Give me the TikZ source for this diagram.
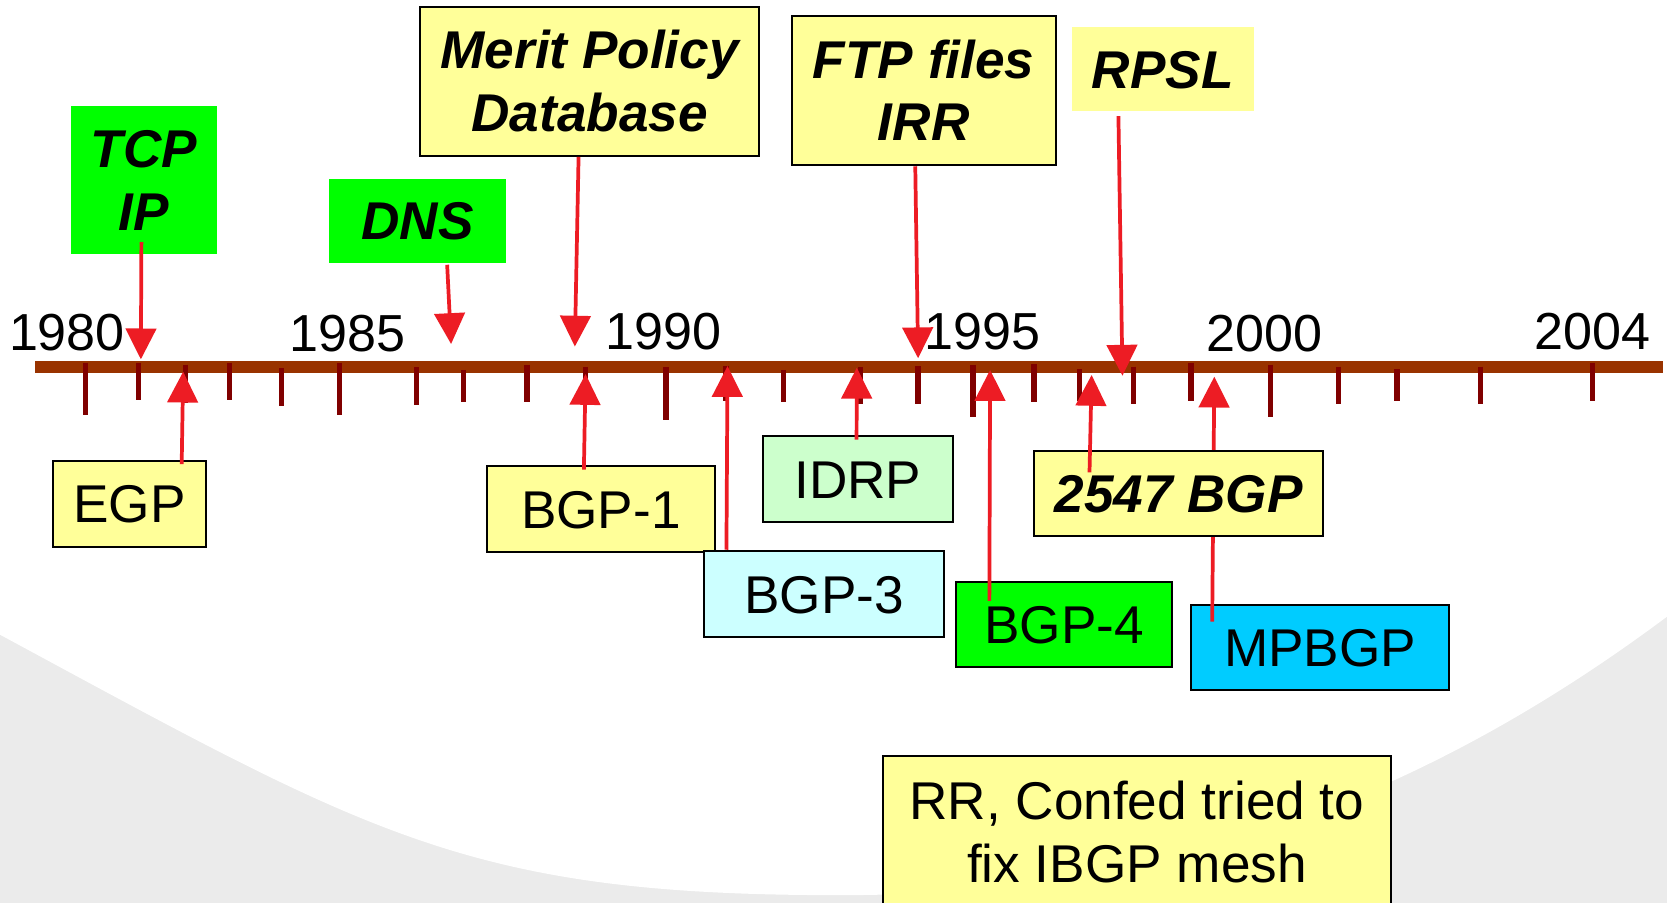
\documentclass[tikz,border=0pt]{standalone}
\usepackage{fontspec}
\setmainfont{Liberation Sans}
\usetikzlibrary{arrows.meta}
\definecolor{bgray}{RGB}{235,235,235}
\definecolor{barbrown}{RGB}{153,51,0}
\definecolor{tickred}{RGB}{128,0,0}
\definecolor{arrred}{RGB}{237,28,36}
\definecolor{lyellow}{RGB}{255,255,153}
\definecolor{bgreen}{RGB}{0,255,0}
\definecolor{lcyan}{RGB}{204,255,255}
\definecolor{lgreen}{RGB}{204,255,204}
\definecolor{skyblue}{RGB}{0,204,255}
\newcommand\twoline[2]{\vtop{\halign{\hfil##\hfil\cr#1\cr#2\cr}}}
\tikzset{
  tbox/.style={rectangle, inner sep=0pt, font=\fontsize{25}{29.5}\selectfont,
               text height=17.9pt, text depth=0pt},
  bi/.style={font=\fontsize{25}{29.5}\selectfont\bfseries\itshape},
  twol/.style={text height=17.9pt, text depth=29.5pt},
  bordered/.style={draw=black, line width=0.9pt},
  yearlbl/.style={anchor=base, inner sep=0pt, font=\fontsize{24.5}{29}\selectfont},
  tick/.style={draw=tickred, line width=2.5pt},
  arr/.style={draw=arrred, line width=1.75pt, -{Triangle[length=14.5pt,width=14.25pt]}}
}
\begin{document}
\begin{tikzpicture}[x=0.5pt,y=-0.5pt]
\useasboundingbox (0,0) rectangle (1568,849);
% background
\fill[bgray] (0,0) rectangle (1568,849);
\fill[white] (0,0) -- (1568,0) -- (1568,580)
  .. controls (1300,780) and (1050,842) .. (790,842)
  .. controls (440,842) and (350,786) .. (0,597) -- cycle;

% timeline bar
\fill[barbrown] (33.3,339.3) rectangle (1564,350.6);
% ticks
\foreach \x/\a/\b in {80.6/341/390, 130.5/341/376, 174.4/343/379, 215.7/341/376,
  265/346/382, 319.5/341/390.7, 392/345.6/381, 435.9/348/378.4, 495.8/343/378,
  550.7/345/377, 626.4/345/395, 682.8/344/377, 736.7/348/377.8,
  809.3/345.5/380, 863.6/344.3/380, 915.3/343.3/392.5, 972.5/342.4/378,
  1015.2/347.1/377, 1066/344.9/380, 1120.2/341.8/377, 1195/343/392,
  1259.2/344.9/380, 1314/347.4/377, 1392.8/344.9/380, 1497.8/341.8/377}
  \draw[tick] (\x,\a) -- (\x,\b);

% year labels
\node[yearlbl] (y1980) at (63,330) {1980};
\node[yearlbl] (y1985) at (326.8,331) {1985};
\node[yearlbl] (y1990) at (624,329.2) {1990};
\node[yearlbl] (y1995) at (923.9,328.6) {1995};
\node[yearlbl] (y2000) at (1189,330.8) {2000};
\node[yearlbl] (y2004) at (1498,329.2) {2004};

% boxes above
\node[tbox, bi, twol, fill=bgreen, minimum width=68.35pt, minimum height=69.45pt]
  (tcp) at (135.55,169.2) {\twoline{TCP}{IP}};
\node[tbox, bi, fill=bgreen, minimum width=83.3pt, minimum height=39.35pt]
  (dns) at (392.7,207.8) {DNS};
\node[tbox, bi, twol, bordered, fill=lyellow, minimum width=159.4pt, minimum height=70.2pt]
  (merit) at (554.7,76.5) {\twoline{Merit Policy}{Database}};
\node[tbox, bi, twol, bordered, fill=lyellow, minimum width=124.1pt, minimum height=70.4pt]
  (ftp) at (868.8,85.1) {\twoline{FTP files}{IRR}};
\node[tbox, bi, fill=lyellow, minimum width=85.5pt, minimum height=39.2pt]
  (rpsl) at (1093.7,64.9) {RPSL};

% boxes below
\node[tbox, bordered, fill=lyellow, minimum width=71.8pt, minimum height=40.45pt]
  (egp) at (121.8,473.75) {EGP};
\node[tbox, bordered, fill=lyellow, minimum width=107.25pt, minimum height=40.45pt]
  (bgpa) at (565.15,478.75) {BGP-1};
\node[tbox, bordered, fill=lcyan, minimum width=113.05pt, minimum height=40.3pt]
  (bgpc) at (775.25,558.9) {BGP-3};
\node[tbox, bordered, fill=lgreen, minimum width=89.35pt, minimum height=40.45pt]
  (idrp) at (806.85,450.55) {IDRP};
\node[tbox, bordered, fill=bgreen, minimum width=101.75pt, minimum height=40.3pt]
  (bgpd) at (1001.05,587.4) {BGP-4};
\node[tbox, bordered, fill=skyblue, minimum width=121.65pt, minimum height=40.1pt]
  (mpbgp) at (1241.65,608.9) {MPBGP};
\node[tbox, twol, bordered, fill=lyellow, minimum width=239.15pt, minimum height=71.5pt]
  (rr) at (1069.35,782.6) {\twoline{RR, Confed tried to}{fix IBGP mesh}};

% arrow tips on the timeline
\coordinate (tTCP) at (132.5,338);
\coordinate (tDNS) at (424.3,323.6);
\coordinate (tMerit) at (540.7,326);
\coordinate (tFTP) at (863.6,337);
\coordinate (tRPSL) at (1055.8,353.4);
\coordinate (tEGP) at (172.3,349.6);
\coordinate (tBGPa) at (550.8,351.8);
\coordinate (tBGPc) at (684.3,344.3);
\coordinate (tIDRP) at (805.9,345.9);
\coordinate (tBGPd) at (931.3,348);
\coordinate (tRFC) at (1026.8,352.7);
\coordinate (tMP) at (1142.2,354.3);

% arrows
\draw[arr] ([xshift=-1.275pt,yshift=5.65pt]tcp.south) -- (tTCP);
\draw[arr] ([xshift=13.95pt,yshift=-0.75pt]dns.south) -- (tDNS);
\draw[arr] ([xshift=-5.25pt]merit.south) -- (tMerit);
\draw[arr] ([xshift=-3.95pt]ftp.south) -- (tFTP);
\draw[arr] ([xshift=-20.85pt,yshift=-2.35pt]rpsl.south) -- (tRPSL);
\draw[arr] ([xshift=24.55pt,yshift=-2.05pt]egp.north) -- (tEGP);
\draw[arr] ([xshift=-7.975pt,yshift=-2.2pt]bgpa.north) -- (tBGPa);
\draw[arr] ([xshift=-45.975pt,yshift=0.3pt]bgpc.north) -- (tBGPc);
\draw[arr] ([xshift=-0.575pt,yshift=-2.2pt]idrp.north) -- (tIDRP);
\draw[arr] ([xshift=-35.225pt,yshift=-9.45pt]bgpd.north) -- (tBGPd);
\draw[arr] ([xshift=-50.725pt,yshift=-8.45pt]mpbgp.north) -- (tMP);

% 2547 BGP box drawn over the MPBGP arrow
\node[tbox, bi, bordered, fill=lyellow, minimum width=136.05pt, minimum height=40.15pt]
  (rfc) at (1108.65,464.05) {2547 BGP};
\draw[arr] ([xshift=-41.925pt,yshift=-10.65pt]rfc.north) -- (tRFC);
\end{tikzpicture}
\end{document}
